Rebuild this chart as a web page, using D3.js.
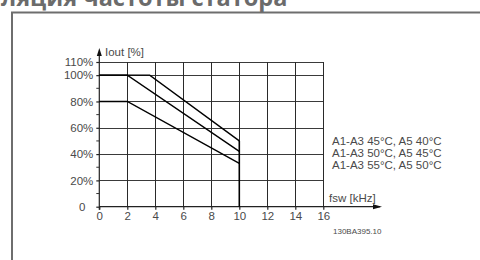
<!DOCTYPE html>
<html><head><meta charset="utf-8">
<script src="https://cdn.jsdelivr.net/npm/d3@7"></script>
<style>
html,body{margin:0;padding:0;background:#fff;overflow:hidden}
svg{display:block}
</style></head>
<body>
<svg id="c" width="480" height="260"></svg>
<script>
const title = "ляция частоты статора";
const xTicks = [0,2,4,6,8,10,12,14,16];
const yTicks = [0,20,40,60,80,100,110];
const yMinor = [10,30,50,70,90];
const seriesNames = ["A1-A3 45°C, A5 40°C","A1-A3 50°C, A5 45°C","A1-A3 55°C, A5 50°C"];
const seriesX = [[0,3.6,10],[0,2,10],[0,2,10]];
const seriesY = [[100,100,50],[100,100,42],[80,80,33]];
const xLabel = "fsw [kHz]";
const yLabel = "Iout [%]";
const code = "130BA395.10";

const svg = d3.select("#c");
const x = d3.scaleLinear().domain([0,16]).range([99.3,323.3]);
const y = d3.scaleLinear().domain([0,110]).range([206.7,62]);
const font = "'Liberation Sans', Arial, sans-serif";
const fs = 11.5;
const txt = "#4a4a4a";

// title
svg.append("text").attr("x",1).attr("y",5.5).attr("font-family","'Open Sans', 'DejaVu Sans', sans-serif")
  .attr("font-weight","bold").attr("font-size",23.5).attr("fill","#6b6b6b").text(title);
// frame
svg.append("path").attr("d","M12,270 L12,12.5 L490,12.5").attr("fill","none").attr("stroke","#6e6e6e").attr("stroke-width",2);

// grid
const g = svg.append("g");
g.selectAll(".hg").data(yTicks.filter(d=>d>0)).join("line")
  .attr("x1",x(0)).attr("x2",x(16)).attr("y1",d=>Math.round(y(d))+0.5).attr("y2",d=>Math.round(y(d))+0.5)
  .attr("stroke","#3a3a3a").attr("stroke-width",1);
g.selectAll(".vg").data(xTicks.filter(d=>d>0)).join("line")
  .attr("x1",d=>Math.round(x(d))+0.5).attr("x2",d=>Math.round(x(d))+0.5).attr("y1",y(0)).attr("y2",y(110))
  .attr("stroke","#2a2a2a").attr("stroke-width",1);

// axes
const ax = svg.append("g").attr("transform",`translate(0,${y(0)})`)
  .call(d3.axisBottom(x).tickValues(xTicks).tickSize(3).tickPadding(2).tickFormat(d3.format("d")));
ax.select(".domain").attr("d",`M${x(0)},0H380`);
const ay = svg.append("g").attr("transform",`translate(${x(0)},0)`)
  .call(d3.axisLeft(y).tickValues(yTicks).tickSize(3).tickPadding(3).tickFormat(d=>d===0?"0":d+"%"));
ay.select(".domain").attr("d",`M0,${y(0)+3}V53`);
ay.selectAll(".tick text").filter(d=>d===0).attr("dx",-8);
svg.append("g").attr("transform",`translate(${x(0)},0)`)
  .selectAll("line").data(yMinor).join("line")
  .attr("x1",-3).attr("x2",0).attr("y1",d=>y(d)).attr("y2",d=>y(d)).attr("stroke","#333");
[ax,ay].forEach(a=>{
  a.selectAll("text").attr("font-family",font).attr("font-size",fs).attr("fill",txt);
  a.selectAll("line,.domain").attr("stroke","#222").attr("stroke-width",1.2);
});
// arrows
svg.append("path").attr("d",`M${x(0)-2.5},56 L${x(0)},48 L${x(0)+2.5},56Z`).attr("fill","#111");
svg.append("path").attr("d",`M373,${y(0)-2.5} L382,${y(0)} L373,${y(0)+2.5}Z`).attr("fill","#111");
svg.append("text").attr("x",105).attr("y",56).attr("font-family",font).attr("font-size",fs).attr("fill",txt).text(yLabel);
svg.append("text").attr("x",329).attr("y",202).attr("font-family",font).attr("font-size",fs).attr("fill",txt).text(xLabel);

// curves
const line = d3.line().x(d=>x(d[0])).y(d=>y(d[1]));
seriesX.forEach((xs,i)=>{
  const pts = xs.map((v,j)=>[v,seriesY[i][j]]);
  svg.append("path").attr("d",line(pts)).attr("fill","none").attr("stroke","#000").attr("stroke-width",1.4);
});
// vertical cut at 10 kHz
svg.append("line").attr("x1",x(10)).attr("x2",x(10)).attr("y1",y(0)).attr("y2",y(seriesY[0][2]))
  .attr("stroke","#000").attr("stroke-width",1.6);

// legend
svg.selectAll(".lg").data(seriesNames).join("text")
  .attr("x",332).attr("y",(d,i)=>y(seriesY[0][2])+4+i*12)
  .attr("font-family",font).attr("font-size",fs).attr("fill",txt).text(d=>d);
svg.append("text").attr("x",333).attr("y",234).attr("font-family",font).attr("font-size",8).attr("fill",txt).text(code);
</script>
</body></html>
